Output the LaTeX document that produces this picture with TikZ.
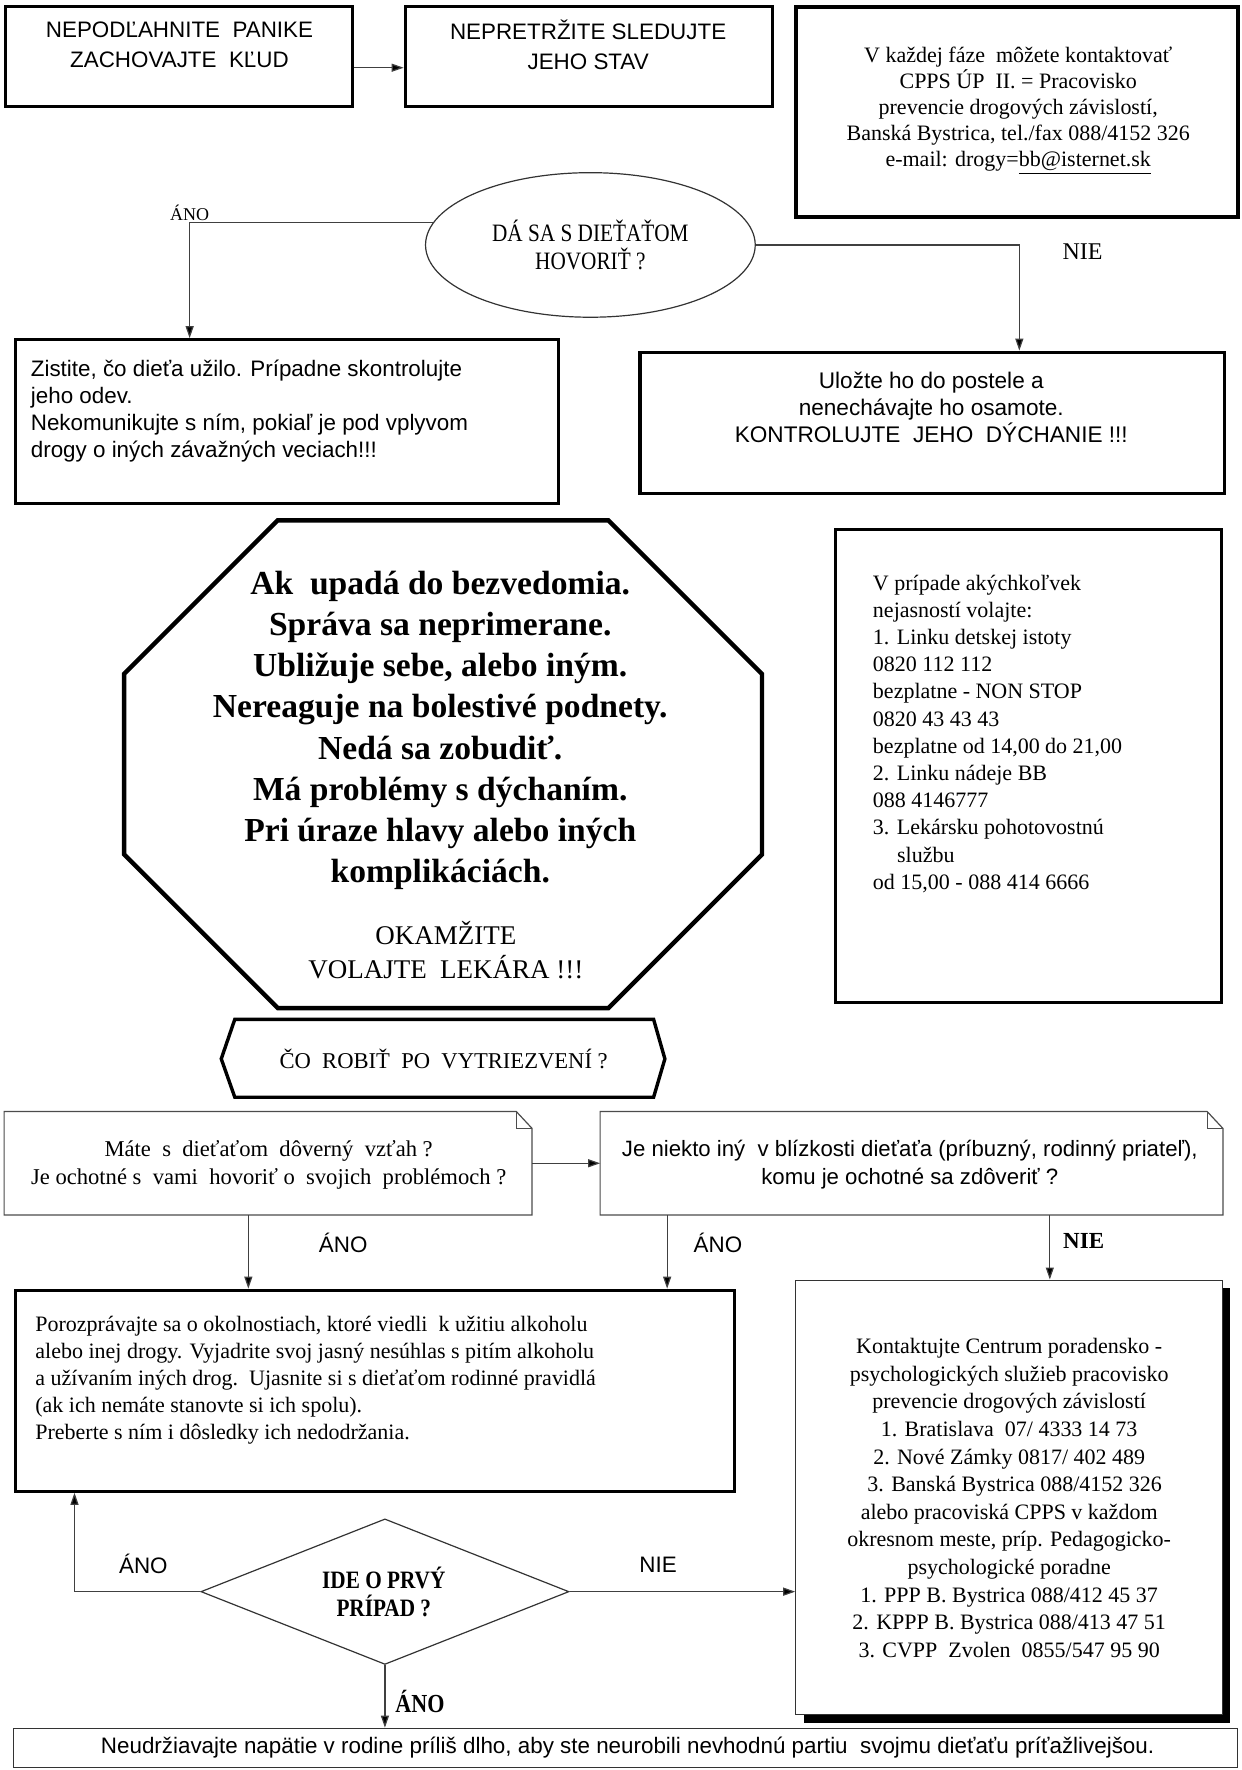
\documentclass[tikz,border=0pt]{standalone}
\usepackage{fontspec}
\setmainfont{Liberation Serif}
\setsansfont{Liberation Sans}
\newfontfamily\condserif[FakeStretch=0.85]{Liberation Serif}
\usetikzlibrary{shapes.geometric,arrows.meta,fit,calc}
\newcommand{\myfs}[2]{\fontsize{#1}{#2}\selectfont}
\tikzset{
  thickbox/.style={draw, line width=1.6pt, inner sep=0pt},
  thinbox/.style={draw, line width=0.6pt, inner sep=0pt},
  notebox/.style={draw=black!70, line width=0.6pt},
  conn/.style={draw=black!75, line width=0.6pt},
  arr/.style={conn, -{Triangle[length=6pt,width=4pt,fill=black]}},
  txt/.style={inner sep=0pt, align=center},
  txtl/.style={inner sep=0pt, align=left, anchor=west},
  sanstxt/.style={txt, font=\sffamily\myfs{11.2}{15}},
}
\begin{document}
\begin{tikzpicture}[x=0.5646pt,y=-0.5646pt]
\path[use as bounding box, fill=white] (0,0) rectangle (1100,1568);

% top boxes
\node[thickbox, fit={(5,6) (312,94)}] (b1) {};
\node[sanstxt] (b1t) at (159,40) {NEPODĽAHNITE\ \ PANIKE\\ZACHOVAJTE\ \ KĽUD};
\node[thickbox, fit={(359,6) (684,94)}] (b2) {};
\node[sanstxt] (b2t) at (521,40) {NEPRETRŽITE SLEDUJTE\\JEHO STAV};
\draw[arr] ($(b1.east)+(0,10)$) -- ($(b2.west)+(0,10)$);

\node[draw, line width=2pt, inner sep=0pt, fit={(705,6) (1097,192)}] (b3) {};
\node[txt, font=\myfs{11}{13}] (b3t) at (902,98) {V každej fáze\ \ môžete kontaktovať\\
CPPS ÚP\ \ II. = Pracovisko\\
prevencie drogových závislostí,\\
Banská Bystrica, tel./fax 088/4152 326\\
e-mail: drogy=\underline{bb@isternet.sk}};

% ellipse
\node[ellipse, draw=black!80, line width=0.6pt, minimum width=164.9pt, minimum height=72.3pt, inner sep=0pt] (ell) at (523,217) {};
\node[txt, font=\condserif\myfs{12.5}{14}] (ellt) at (523,217) {DÁ SA S DIEŤAŤOM\\HOVORIŤ ?};
\node[txt, font=\myfs{9}{10}] (ano1) at (168,189) {ÁNO};
\node[txt, font=\myfs{12}{13}] (nie1) at (959,223) {NIE};

\node[thickbox, fit={(14,301) (495,446)}] (zi) {};
\node[txtl, font=\sffamily\myfs{11.2}{13.6}] (zit) at (27,364) {Zistite, čo dieťa užilo. Prípadne skontrolujte\\
jeho odev.\\
Nekomunikujte s ním, pokiaľ je pod vplyvom\\
drogy o iných závažných veciach!!!};

\node[thickbox, fit={(567,312) (1085,437)}] (ul) {};
\node[sanstxt, font=\sffamily\myfs{11.3}{13.6}] (ult) at (825,361) {Uložte ho do postele a\\
nenechávajte ho osamote.\\
KONTROLUJTE\ \ JEHO\ \ DÝCHANIE !!!};

\coordinate (xZ) at (168,0);
\coordinate (xU) at (903,0);
\draw[arr] (ell.172) -| (xZ |- zi.north);
\draw[arr] (ell.east) -| (xU |- ul.north);

% octagon
\draw[line width=2.2pt, line join=miter] (246,461) -- (539,461) -- (675,597) -- (675,757) -- (539,893) -- (246,893) -- (110,757) -- (110,597) -- cycle;
\node[txt, font=\bfseries\myfs{16.8}{20.6}] (octb) at (390,647) {Ak\ \ upadá do bezvedomia.\\
Správa sa neprimerane.\\
Ubližuje sebe, alebo iným.\\
Nereaguje na bolestivé podnety.\\
Nedá sa zobudiť.\\
Má problémy s dýchaním.\\
Pri úraze hlavy alebo iných\\
komplikáciách.};
\node[txt, font=\myfs{13.5}{17}] (octn) at (395,842) {OKAMŽITE\\VOLAJTE\ \ LEKÁRA !!!};

% right info box
\node[thickbox, fit={(740,469) (1082,888)}] (vp) {};
\node[txtl, font=\myfs{11}{13.6}] (vpt) at (773,650) {V prípade akýchkoľvek\\
nejasností volajte:\\
1. Linku detskej istoty\\
0820 112 112\\
bezplatne - NON STOP\\
0820 43 43 43\\
bezplatne od 14,00 do 21,00\\
2. Linku nádeje BB\\
088 4146777\\
3. Lekársku pohotovostnú\\
\hspace*{1.1em}službu\\
od 15,00 - 088 414 6666};

% hexagon
\draw[line width=1.7pt, line join=miter] (196,938) -- (208,903) -- (579,903) -- (589,938) -- (579,972) -- (208,972) -- cycle;
\node[txt, font=\myfs{11.3}{13}] (hext) at (393,938) {ČO\ \ ROBIŤ\ \ PO\ \ VYTRIEZVENÍ ?};

% note boxes
\node[inner sep=0pt, fit={(4,985) (471,1076)}] (mate) {};
\draw[notebox] (mate.north west) -- ($(mate.north east)+(-14,0)$) -- ($(mate.north east)+(0,15)$) -- (mate.south east) -- (mate.south west) -- cycle;
\draw[notebox] ($(mate.north east)+(-14,0)$) -- ($(mate.north east)+(-14,15)$) -- ($(mate.north east)+(0,15)$);
\node[txt, font=\myfs{11.3}{14}] (matet) at (238,1032) {Máte\ \ s\ \ dieťaťom\ \ dôverný\ \ vzťah ?\\
Je ochotné s\ \ vami\ \ hovoriť o\ \ svojich\ \ problémoch ?};

\node[inner sep=0pt, fit={(532,985) (1083,1076)}] (je) {};
\draw[notebox] (je.north west) -- ($(je.north east)+(-14,0)$) -- ($(je.north east)+(0,15)$) -- (je.south east) -- (je.south west) -- cycle;
\draw[notebox] ($(je.north east)+(-14,0)$) -- ($(je.north east)+(-14,15)$) -- ($(je.north east)+(0,15)$);
\node[sanstxt, font=\sffamily\myfs{11.1}{14}] (jet) at (806,1032) {Je niekto iný\ \ v blízkosti dieťaťa (príbuzný, rodinný priateľ),\\
komu je ochotné sa zdôveriť ?};

\draw[arr] (mate.east) -- (je.west);

% Porozpravajte box
\node[thickbox, fit={(14,1143) (651,1321)}] (poro) {};
\node[txtl, font=\myfs{11}{13.5}] (porot) at (31,1223) {Porozprávajte sa o okolnostiach, ktoré viedli\ \ k užitiu alkoholu\\
alebo inej drogy. Vyjadrite svoj jasný nesúhlas s pitím alkoholu\\
a užívaním iných drog.\ \ Ujasnite si s dieťaťom rodinné pravidlá\\
(ak ich nemáte stanovte si ich spolu).\\
Preberte s ním i dôsledky ich nedodržania.};

% Kontaktujte box with shadow
\fill[black] (712,1141) rectangle (1090,1526);
\node[draw=black!80, fill=white, line width=0.6pt, inner sep=0pt, fit={(705,1134) (1083,1519)}] (kon) {};
\node[txt, font=\myfs{11}{13.8}] (kont) at (894,1327) {Kontaktujte Centrum poradensko -\\
psychologických služieb pracovisko\\
prevencie drogových závislostí\\
1. Bratislava\ \ 07/ 4333 14 73\\
2. Nové Zámky 0817/ 402 489\\
\ \ 3. Banská Bystrica 088/4152 326\\
alebo pracoviská CPPS v každom\\
okresnom meste, príp. Pedagogicko-\\
psychologické poradne\\
1. PPP B. Bystrica 088/412 45 37\\
2. KPPP B. Bystrica 088/413 47 51\\
3. CVPP\ \ Zvolen\ \ 0855/547 95 90};

\coordinate (xA) at (220,0);
\coordinate (xB) at (591,0);
\coordinate (xC) at (930,0);
\draw[arr] (xA |- mate.south) -- (xA |- poro.north);
\draw[arr] (xB |- je.south) -- (xB |- poro.north);
\draw[arr] (xC |- je.south) -- (xC |- kon.north);
\node[sanstxt] (ano2) at (304,1101) {ÁNO};
\node[sanstxt] (ano3) at (636,1101) {ÁNO};
\node[txt, font=\bfseries\myfs{11.5}{13}] (nie2) at (960,1099) {NIE};

% diamond
\node[diamond, draw=black!80, line width=0.6pt, minimum width=184.1pt, minimum height=72.8pt, inner sep=0pt] (dia) at (341,1410) {};
\node[txt, font=\condserif\bfseries\myfs{12.5}{14}] (diat) at (340,1410) {IDE O PRVÝ\\PRÍPAD ?};
\node[sanstxt] (ano4) at (127,1385) {ÁNO};
\node[sanstxt] (nie3) at (583,1386) {NIE};

% bottom box
\node[thinbox, draw=black!80, fit={(12,1531) (1096,1566)}] (bot) {};
\node[sanstxt] (bott) at (556,1548) {Neudržiavajte napätie v rodine príliš dlho, aby ste neurobili nevhodnú partiu\ \ svojmu dieťaťu príťažlivejšou.};

\coordinate (xL) at (66,0);
\draw[arr] (dia.west) -| (xL |- poro.south);
\draw[arr] (dia.east) -- (dia.east -| kon.west);
\draw[arr] (dia.south) -- (dia.south |- bot.north);
\node[txt, font=\condserif\bfseries\myfs{13}{14}] (ano5) at (372,1507) {ÁNO};
\end{tikzpicture}
\end{document}
